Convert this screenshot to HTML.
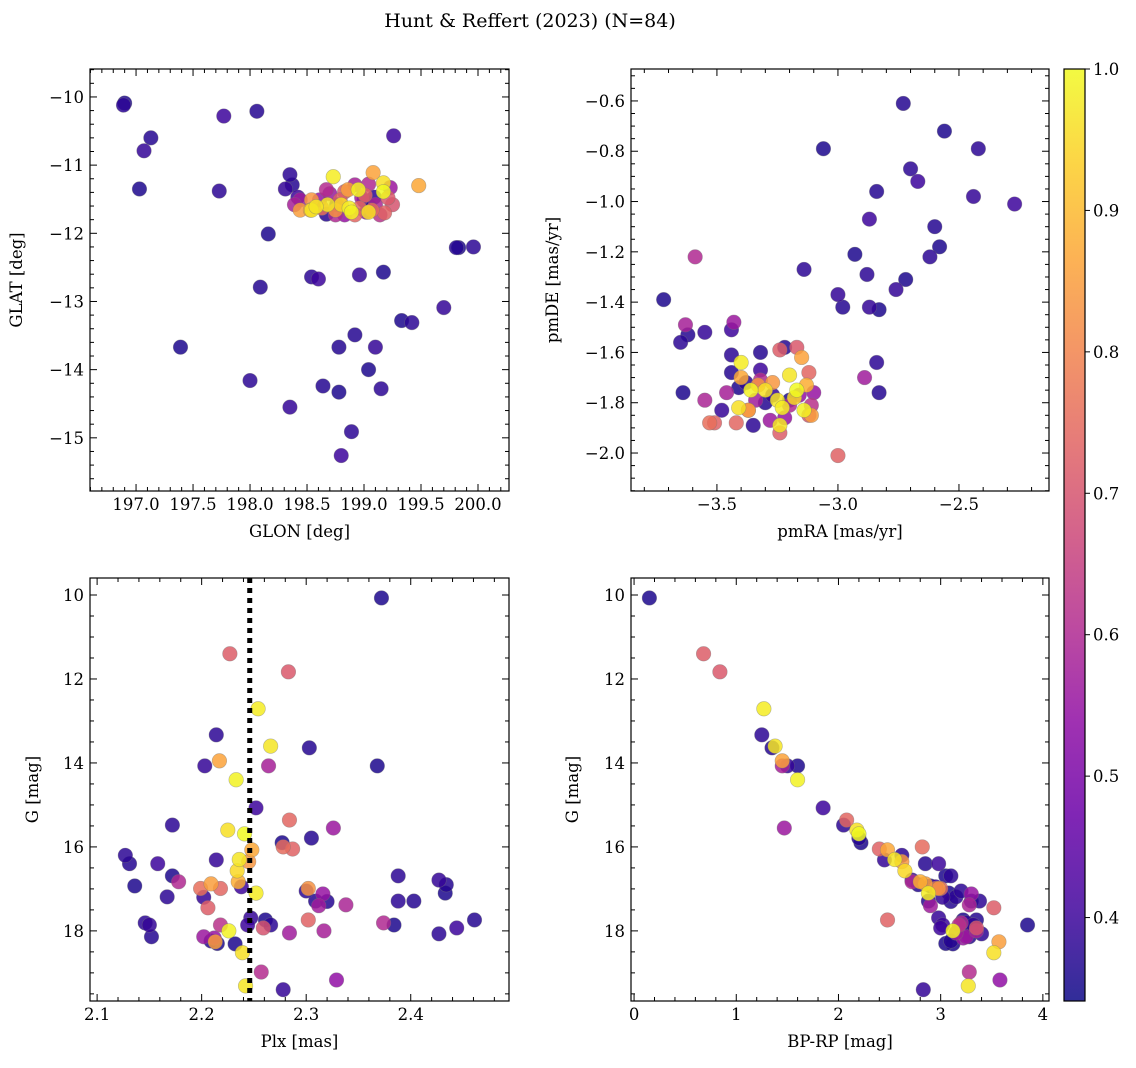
<!DOCTYPE html>
<html><head><meta charset="utf-8">
<style>
html,body{margin:0;padding:0;background:#fff;}
svg{display:block;font-family:"DejaVu Serif","Liberation Serif",serif;}
</style></head>
<body>
<svg id="fig" width="1136" height="1068" viewBox="0 0 1136 1068" xmlns="http://www.w3.org/2000/svg">
<text x="530" y="27" font-size="19" text-anchor="middle">Hunt &amp; Reffert (2023) (N=84)</text>
</svg>
<script>
// ---- data (yellow, orange, pink, magenta, dark groups) ----
const prob = [0.98,0.97,0.99,0.96,1.0,0.97,0.95,0.98,0.99,0.96,0.97,
 0.86,0.87,0.84,0.88,0.85,0.83,0.85,
 0.72,0.71,0.74,0.75,0.73,0.76,0.74,0.72,0.73,0.70,
 0.58,0.56,0.60,0.55,0.57,0.59,0.62,0.55,0.57,0.58,0.56,0.60,0.61,0.54,
 0.36,0.38,0.37,0.39,0.36,0.40,0.38,0.37,0.36,0.39,0.38,0.37,0.40,0.36,0.38,0.39,0.37,0.36,0.38,0.40,0.37,0.39,0.36,0.38,0.37,0.39,0.36,0.38,0.40,0.37,0.36,0.38,0.39,0.37,0.36,0.38,0.40,0.37,0.39,0.36,0.38,0.37];
const plx = [2.254,2.266,2.233,2.225,2.241,2.236,2.234,2.252,2.226,2.239,2.242,
 2.217,2.248,2.245,2.235,2.209,2.302,2.213,
 2.227,2.283,2.284,2.278,2.287,2.199,2.218,2.206,2.302,2.259,
 2.264,2.326,2.178,2.316,2.312,2.338,2.218,2.212,2.284,2.317,2.202,2.374,2.257,2.329,
 2.372,2.214,2.303,2.203,2.368,2.252,2.172,2.305,2.277,2.214,2.127,2.131,2.158,2.172,2.388,2.427,2.434,2.136,2.167,2.238,2.309,2.202,2.433,2.388,2.403,2.247,2.261,2.266,2.244,2.209,2.232,2.146,2.150,2.152,2.384,2.427,2.444,2.461,2.278,2.215,2.300,2.320];
const gmag = [12.71,13.60,14.40,15.60,15.69,16.30,16.57,17.10,18.00,18.52,19.31,
 13.95,16.07,16.35,16.83,16.88,16.99,18.26,
 11.40,11.83,15.36,16.00,16.05,16.99,16.99,17.45,17.74,17.93,
 14.07,15.55,16.83,17.12,17.40,17.38,17.86,18.17,18.05,18.00,18.14,17.81,18.98,19.17,
 10.07,13.33,13.64,14.07,14.07,15.07,15.48,15.79,15.90,16.31,16.20,16.40,16.40,16.69,16.69,16.79,16.90,16.93,17.19,16.95,17.29,17.20,17.10,17.29,17.29,17.69,17.74,17.86,17.86,18.24,18.31,17.81,17.86,18.14,17.86,18.07,17.93,17.74,19.40,18.30,17.05,17.30];
const bprp = [1.27,1.38,1.60,2.18,2.20,2.55,2.65,2.88,3.12,3.52,3.27,
 1.45,2.48,2.62,2.80,2.85,2.98,3.57,
 0.68,0.84,2.08,2.82,2.40,2.95,3.00,3.52,2.48,3.35,
 1.45,1.47,2.72,3.30,2.90,3.28,3.18,3.22,3.15,3.35,3.25,3.20,3.28,3.58,
 0.15,1.25,1.35,1.50,1.60,1.85,2.05,2.20,2.22,2.45,2.62,2.85,2.98,3.05,3.10,2.72,2.78,2.90,3.15,2.95,2.88,3.02,3.08,3.38,3.30,2.98,3.22,3.30,3.02,3.10,3.12,3.25,3.32,3.28,3.85,3.40,3.00,3.35,2.83,3.05,3.20,3.10];
const glon = [198.73,198.54,198.95,199.17,199.17,198.68,198.80,198.87,198.89,199.04,198.58,
 199.08,199.48,198.54,198.53,198.86,198.75,198.44,
 198.83,199.21,198.96,199.07,199.18,198.63,198.92,198.79,199.01,199.25,
 198.39,198.70,199.04,198.83,198.98,199.10,199.14,198.61,198.44,198.92,199.23,198.75,198.67,199.02,
 196.90,196.89,197.13,197.07,197.03,197.77,197.73,198.06,198.16,198.31,198.35,198.37,199.26,197.39,198.00,198.35,198.64,198.78,198.89,198.80,198.78,199.10,199.04,199.15,198.92,198.96,199.17,198.54,198.60,198.09,199.33,199.42,199.70,199.81,199.83,199.96,198.42,198.67,198.76,199.05,199.09,199.00];
const glat = [-11.17,-11.66,-11.36,-11.26,-11.39,-11.58,-11.58,-11.63,-11.69,-11.69,-11.61,
 -11.11,-11.30,-11.51,-11.66,-11.36,-11.66,-11.66,
 -11.39,-11.48,-11.63,-11.66,-11.70,-11.63,-11.73,-11.51,-11.44,-11.58,
 -11.58,-11.42,-11.28,-11.73,-11.48,-11.58,-11.73,-11.51,-11.51,-11.29,-11.33,-11.73,-11.36,-11.69,
 -10.09,-10.12,-10.60,-10.79,-11.35,-10.28,-11.38,-10.21,-12.01,-11.35,-11.14,-11.29,-10.57,-13.67,-14.16,-14.55,-14.24,-14.33,-14.91,-15.26,-13.67,-13.67,-14.00,-14.28,-13.49,-12.61,-12.57,-12.64,-12.67,-12.79,-13.28,-13.31,-13.09,-12.21,-12.21,-12.20,-11.47,-11.72,-11.58,-11.61,-11.47,-11.52];
const pmra = [-3.40,-3.20,-3.36,-3.30,-3.17,-3.25,-3.18,-3.23,-3.14,-3.41,-3.24,
 -3.15,-3.40,-3.27,-3.13,-3.11,-3.33,-3.37,
 -3.24,-3.17,-3.12,-3.37,-3.51,-3.53,-3.42,-3.24,-3.00,-3.12,
 -3.63,-3.43,-3.59,-3.10,-3.34,-3.55,-3.11,-3.22,-2.89,-3.46,-3.28,-3.20,-3.32,-3.16,
 -3.72,-3.65,-3.62,-3.55,-3.64,-3.44,-3.44,-3.44,-3.41,-3.48,-3.35,-3.32,-3.32,-3.06,-3.14,-3.00,-2.98,-2.93,-2.88,-2.87,-2.84,-2.87,-2.83,-2.84,-2.83,-2.76,-2.72,-2.70,-2.67,-2.73,-2.56,-2.42,-2.44,-2.60,-2.58,-2.62,-2.27,-3.22,-3.27,-3.20,-3.38,-3.30];
const pmde = [-1.64,-1.69,-1.75,-1.75,-1.75,-1.79,-1.78,-1.82,-1.83,-1.82,-1.89,
 -1.62,-1.70,-1.72,-1.73,-1.85,-1.73,-1.83,
 -1.59,-1.58,-1.68,-1.83,-1.88,-1.88,-1.88,-1.92,-2.01,-1.85,
 -1.49,-1.48,-1.22,-1.76,-1.79,-1.79,-1.81,-1.86,-1.70,-1.76,-1.87,-1.81,-1.71,-1.77,
 -1.39,-1.56,-1.53,-1.52,-1.76,-1.51,-1.61,-1.68,-1.74,-1.83,-1.89,-1.60,-1.67,-0.79,-1.27,-1.37,-1.42,-1.21,-1.29,-1.07,-0.96,-1.42,-1.43,-1.64,-1.76,-1.35,-1.31,-0.87,-0.92,-0.61,-0.72,-0.79,-0.98,-1.10,-1.18,-1.22,-1.01,-1.58,-1.77,-1.79,-1.72,-1.80];
const plxMedian = 2.246;
const cbTicks = [0.4,0.5,0.6,0.7,0.8,0.9,1.0];

const NS='http://www.w3.org/2000/svg';
const svg=document.getElementById('fig');
function el(tag,attrs,parent){const e=document.createElementNS(NS,tag);for(const k in attrs)e.setAttribute(k,attrs[k]);(parent||svg).appendChild(e);return e;}
const plasma=[[13,8,135],[65,4,157],[106,0,168],[143,13,164],[177,42,144],[204,71,120],[225,100,98],[242,132,75],[252,166,54],[252,206,37],[240,249,33]];
const PMIN=0.341,PMAX=1.0;
function cmap(v){let t=(v-PMIN)/(PMAX-PMIN);t=Math.max(0,Math.min(1,t))*10;const i=Math.min(9,Math.floor(t)),f=t-i;const a=plasma[i],b=plasma[i+1];return 'rgb('+a.map((c,k)=>Math.round(c+(b[k]-c)*f)).join(',')+')';}

function panel(cfg){
  const {x0,y0,x1,y1,xmin,xmax,ymin,ymax,name}=cfg;
  const sx=v=>x0+(v-xmin)/(xmax-xmin)*(x1-x0);
  const sy=cfg.invert? (v=>y0+(v-ymin)/(ymax-ymin)*(y1-y0)) : (v=>y1-(v-ymin)/(ymax-ymin)*(y1-y0));
  const g=el('g',{});
  
  
  const order=prob.map((p,i)=>i).sort((a,b)=>prob[a]-prob[b]);
  const pts=el('g',{},g);
  
  
  order.forEach(i=>{
    const c=el('circle',{cx:sx(cfg.xs[i]),cy:sy(cfg.ys[i]),r:7.3,fill:cmap(prob[i]),'fill-opacity':0.85,stroke:'#777','stroke-opacity':0.5,'stroke-width':0.6},pts);
    
    
  });
  if(cfg.vline!==undefined){
    const l=el('line',{x1:sx(cfg.vline),x2:sx(cfg.vline),y1:y0,y2:y1,stroke:'#000','stroke-width':5,'stroke-dasharray':'5,5'},g);
    
    
  }
  el('rect',{x:x0,y:y0,width:x1-x0,height:y1-y0,fill:'none',stroke:'#000','stroke-width':1.2},g);
  const eps=1e-9;
  for(let v=Math.ceil(xmin/cfg.xminor-eps)*cfg.xminor; v<=xmax+eps; v+=cfg.xminor){
    const X=sx(v); const major=Math.abs(v/cfg.xmajor-Math.round(v/cfg.xmajor))<1e-6;
    const L=major?7:4;
    el('line',{x1:X,x2:X,y1:y1,y2:y1-L,stroke:'#000','stroke-width':1},g);
    el('line',{x1:X,x2:X,y1:y0,y2:y0+L,stroke:'#000','stroke-width':1},g);
    if(major){const t=el('text',{x:X,y:y1+19,'font-size':16.5,'text-anchor':'middle'},g);t.textContent=cfg.xfmt(v);
      
      }
  }
  for(let v=Math.ceil(ymin/cfg.yminor-eps)*cfg.yminor; v<=ymax+eps; v+=cfg.yminor){
    const Y=sy(v); const major=Math.abs(v/cfg.ymajor-Math.round(v/cfg.ymajor))<1e-6;
    const L=major?7:4;
    el('line',{x1:x0,x2:x0+L,y1:Y,y2:Y,stroke:'#000','stroke-width':1},g);
    el('line',{x1:x1,x2:x1-L,y1:Y,y2:Y,stroke:'#000','stroke-width':1},g);
    if(major){const t=el('text',{x:x0-6,y:Y+6,'font-size':16.5,'text-anchor':'end'},g);t.textContent=cfg.yfmt(v);
      
      }
  }
  const xl=el('text',{x:(x0+x1)/2,y:y1+46,'font-size':16.5,'text-anchor':'middle'},g);xl.textContent=cfg.xlabel;
  
  
  const yx=cfg.ylx, yy=(y0+y1)/2;
  const yl=el('text',{x:yx,y:yy,'font-size':16.5,'text-anchor':'middle',transform:'rotate(-90 '+yx+' '+yy+')'},g);yl.textContent=cfg.ylabel;
  
  
}
const m='\u2212';
const f1=v=>(v<0?m:'')+Math.abs(v).toFixed(1);
const f0=v=>(v<0?m:'')+Math.abs(Math.round(v)).toString();
panel({name:'glon-glat-panel',x0:90,y0:69,x1:509,y1:491,xmin:196.596,xmax:200.272,ymin:-15.78,ymax:-9.59,xs:glon,ys:glat,
  xmajor:0.5,xminor:0.1,ymajor:1,yminor:0.2,xfmt:v=>v.toFixed(1),yfmt:f0,xlabel:'GLON [deg]',ylabel:'GLAT [deg]',ylx:22});
panel({name:'pm-panel',x0:631,y0:69,x1:1049,y1:491,xmin:-3.855,xmax:-2.128,ymin:-2.151,ymax:-0.473,xs:pmra,ys:pmde,
  xmajor:0.5,xminor:0.1,ymajor:0.2,yminor:0.05,xfmt:f1,yfmt:f1,xlabel:'pmRA [mas/yr]',ylabel:'pmDE [mas/yr]',ylx:558});
panel({name:'plx-g-panel',x0:90,y0:578,x1:509,y1:1001,xmin:2.0932,xmax:2.494,ymin:9.595,ymax:19.67,invert:true,xs:plx,ys:gmag,vline:plxMedian,
  xmajor:0.1,xminor:0.02,ymajor:2,yminor:0.5,xfmt:v=>v.toFixed(1),yfmt:f0,xlabel:'Plx [mas]',ylabel:'G [mag]',ylx:38});
panel({name:'cmd-panel',x0:631,y0:578,x1:1049,y1:1001,xmin:-0.03,xmax:4.06,ymin:9.595,ymax:19.67,invert:true,xs:bprp,ys:gmag,
  xmajor:1,xminor:0.2,ymajor:2,yminor:0.5,xfmt:f0,yfmt:f0,xlabel:'BP-RP [mag]',ylabel:'G [mag]',ylx:578});

// colorbar
const cb=el('g',{});


const cx0=1064,cx1=1085,cy0=69,cy1=1001;
const defs=el('defs',{},cb);
const grad=el('linearGradient',{id:'pg',x1:0,y1:1,x2:0,y2:0},defs);
plasma.forEach((c,i)=>el('stop',{offset:(i*10)+'%','stop-color':'rgb('+c.join(',')+')','stop-opacity':0.85},grad));
el('rect',{x:cx0,y:cy0,width:cx1-cx0,height:cy1-cy0,fill:'url(#pg)',stroke:'#000','stroke-width':1.2},cb);
const cy=v=>cy1-(v-PMIN)/(PMAX-PMIN)*(cy1-cy0);
cbTicks.forEach(v=>{
  const Y=cy(v);
  el('line',{x1:cx1,x2:cx1+5,y1:Y,y2:Y,stroke:'#000','stroke-width':1},cb);
  const t=el('text',{x:cx1+8,y:Y+6,'font-size':16.5},cb);t.textContent=v.toFixed(1);
  
  
});
</script>
</body></html>
